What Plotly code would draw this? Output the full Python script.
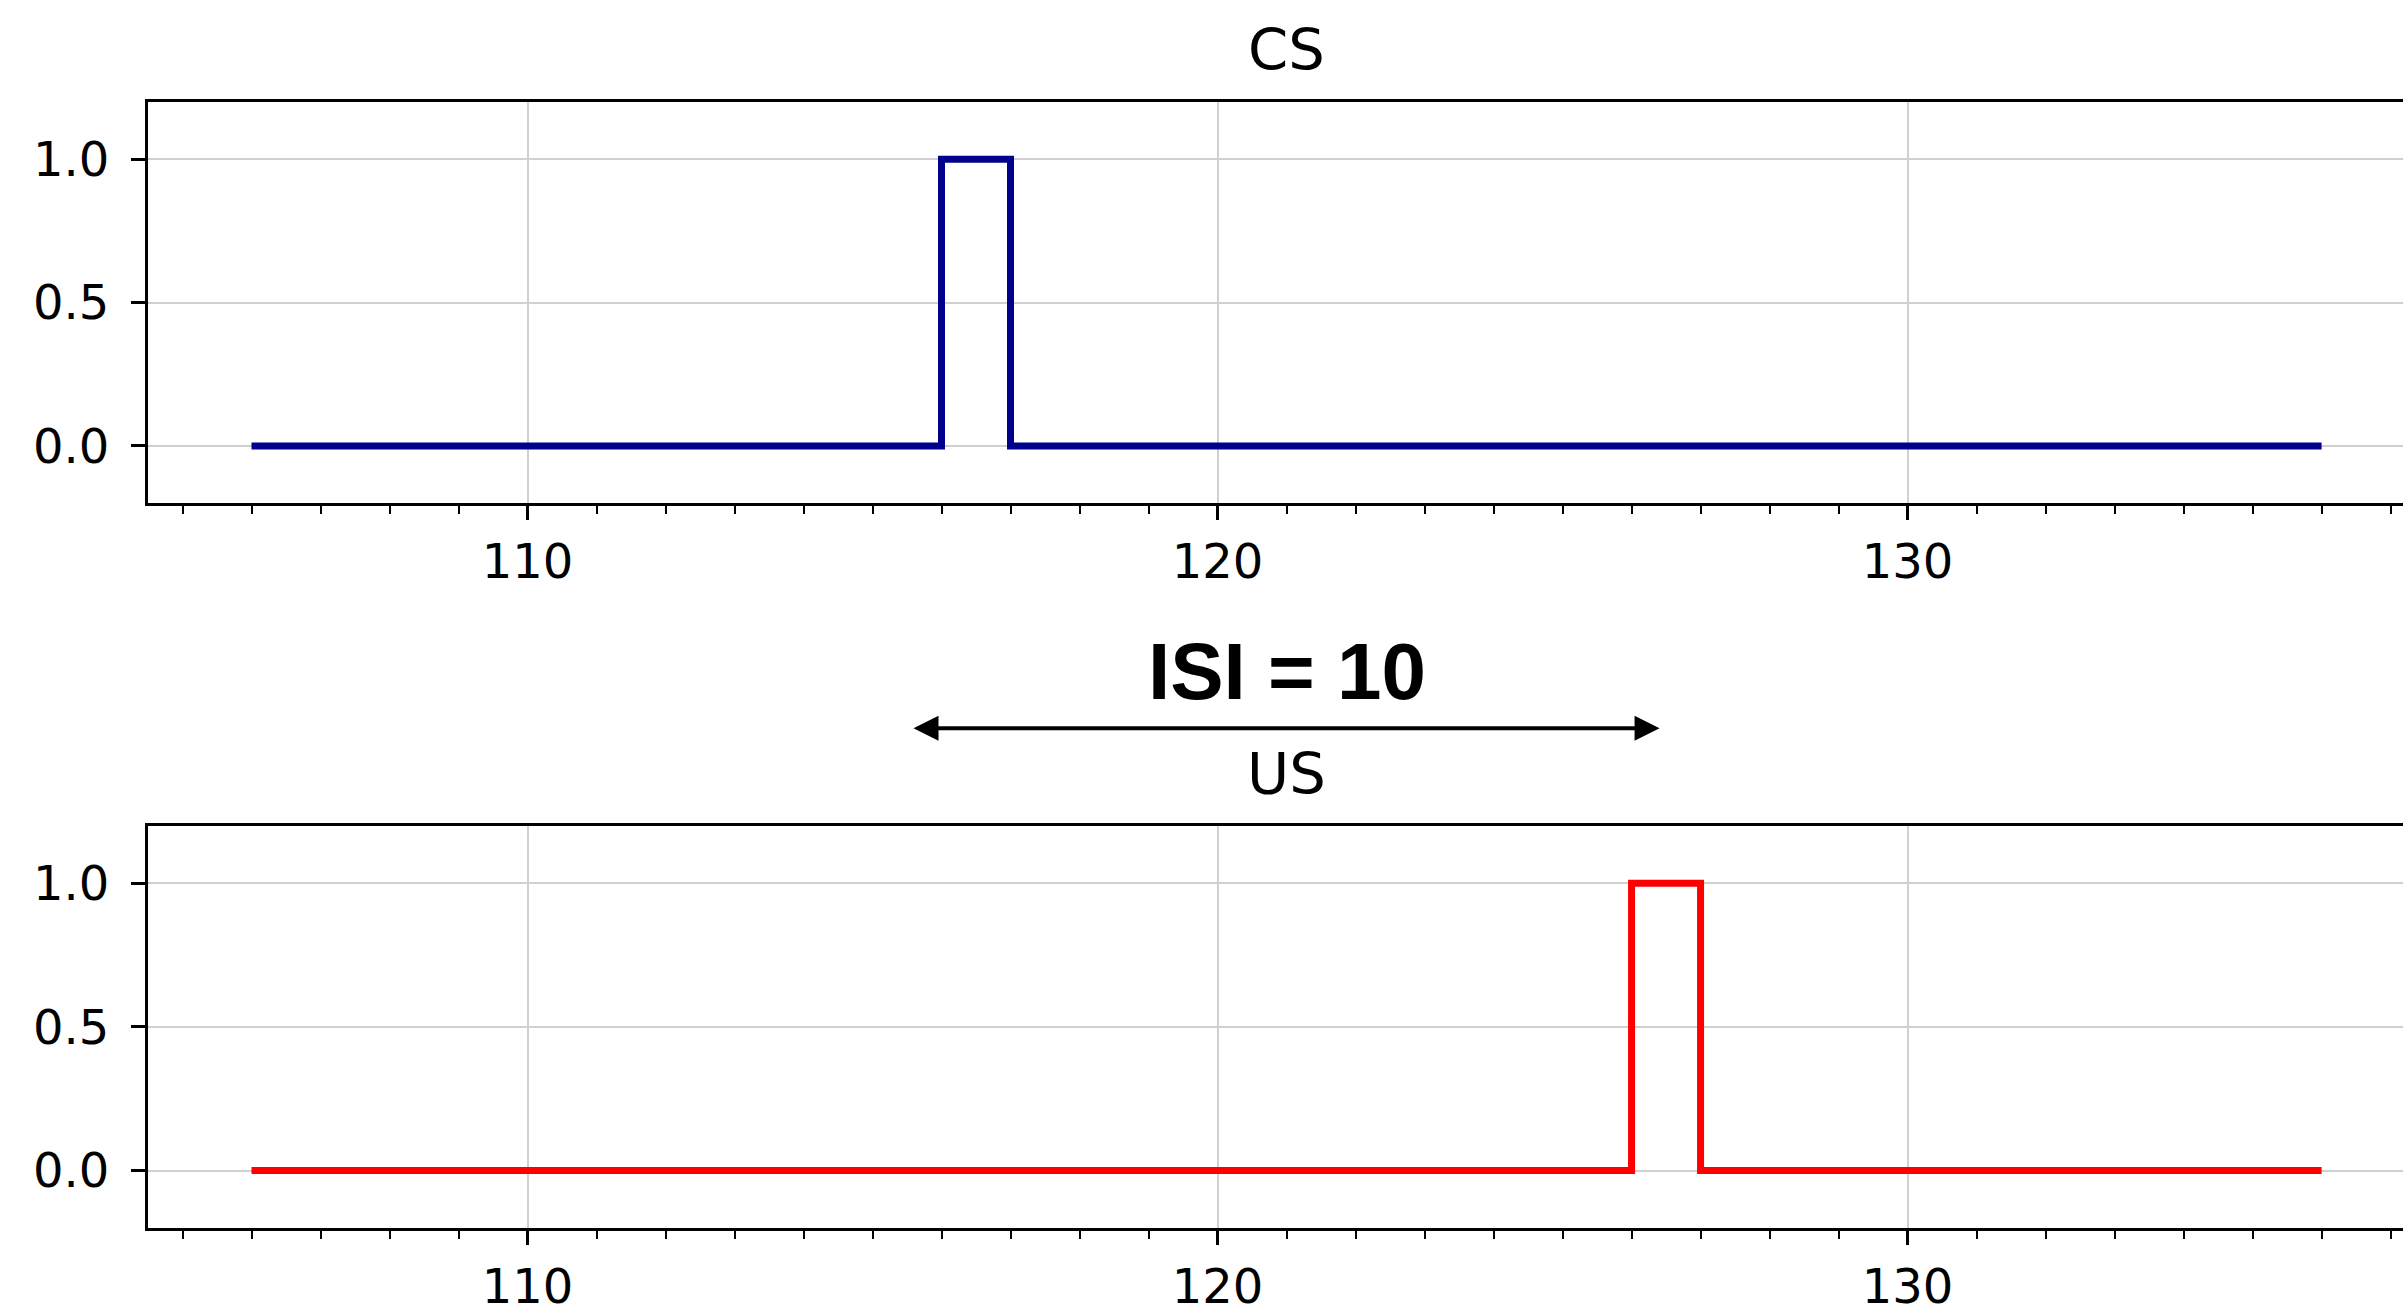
import plotly.graph_objects as go

# ---- data ----
time = [106, 107, 108, 109, 110, 111, 112, 113, 114, 115, 116, 117, 118, 119, 120,
        121, 122, 123, 124, 125, 126, 127, 128, 129, 130, 131, 132, 133, 134, 135, 136]
cs = [0, 0, 0, 0, 0, 0, 0, 0, 0, 0, 1, 0, 0, 0, 0,
      0, 0, 0, 0, 0, 0, 0, 0, 0, 0, 0, 0, 0, 0, 0, 0]
us = [0, 0, 0, 0, 0, 0, 0, 0, 0, 0, 0, 0, 0, 0, 0,
      0, 0, 0, 0, 0, 1, 0, 0, 0, 0, 0, 0, 0, 0, 0, 0]
titles = ["CS", "US"]
isi_label = "ISI = 10"
isi_start, isi_end = 116, 126
y_ticks = [0.0, 0.5, 1.0]
y_ticktext = ["0.0", "0.5", "1.0"]

W, H = 2403, 1314
ML, MT, MB = 148, 102, 81
PH = H - MT - MB  # plot area height in px


def py(p):
    """pixel row (from top) -> paper y"""
    return (H - MB - p) / PH


fig = go.Figure()
fig.add_trace(go.Scatter(x=time, y=cs, mode="lines", line=dict(color="#00008B", width=7, shape="hv"),
                         xaxis="x", yaxis="y", showlegend=False))
fig.add_trace(go.Scatter(x=time, y=us, mode="lines", line=dict(color="#FF0000", width=7, shape="hv"),
                         xaxis="x2", yaxis="y2", showlegend=False))

font_tick = dict(family="DejaVu Sans", size=48, color="black")
xcommon = dict(range=[104.5, 137.18], dtick=10, tick0=0, ticks="outside", ticklen=14, tickwidth=3,
               tickcolor="black", showline=True, linewidth=3.2, linecolor="black", mirror=True,
               showgrid=True, gridcolor="#d0d0d0", gridwidth=1.5, zeroline=False, tickfont=font_tick,
               minor=dict(dtick=1, tick0=0, ticks="outside", ticklen=8, tickwidth=2.4,
                          tickcolor="black", showgrid=False))
ycommon = dict(range=[-0.2, 1.2], tickvals=y_ticks, ticktext=y_ticktext, ticks="outside", ticklen=14,
               tickwidth=3, tickcolor="black", showline=True, linewidth=3.2, linecolor="black",
               mirror=False, showgrid=True, gridcolor="#d0d0d0", gridwidth=1.5, zeroline=False,
               tickfont=font_tick, ticklabelstandoff=12)

top_bottom = py(505)
bot_top = py(829)

fig.update_layout(
    width=W, height=H,
    margin=dict(l=ML, r=0, t=MT, b=MB, pad=0),
    paper_bgcolor="white", plot_bgcolor="white",
    xaxis=dict(domain=[0, 1], anchor="y", **xcommon),
    yaxis=dict(domain=[top_bottom, 1], anchor="x", **ycommon),
    xaxis2=dict(domain=[0, 1], anchor="y2", **xcommon),
    yaxis2=dict(domain=[0, bot_top], anchor="x2", **ycommon),
)

mid = (xcommon["range"][0] + 137.5) / 2
title_font = dict(family="DejaVu Sans", size=57.6, color="black")
fig.add_annotation(text=titles[0], x=mid, xref="x", y=py(50), yref="paper",
                   xanchor="center", yanchor="middle", showarrow=False, font=title_font)
fig.add_annotation(text=titles[1], x=mid, xref="x", y=py(777), yref="paper",
                   xanchor="center", yanchor="middle", showarrow=False, font=title_font)
fig.add_annotation(text="<b>" + isi_label + "</b>", x=(isi_start + isi_end) / 2, xref="x",
                   y=py(674), yref="paper", xanchor="center", yanchor="middle", showarrow=False,
                   font=dict(family="Liberation Sans", size=80, color="black"))

# double-headed arrow between CS onset and US onset
ay = py(731)
px_per_unit = 69.0
tip_off = 28 / px_per_unit
head_len = 25 / px_per_unit
head_h = 12.5 / PH
xl = isi_start - tip_off
xr = isi_end + tip_off
fig.add_shape(type="line", xref="x", yref="paper", x0=xl + head_len * 0.8, x1=xr - head_len * 0.8,
              y0=ay, y1=ay, line=dict(color="black", width=4))
fig.add_shape(type="path", xref="x", yref="paper", fillcolor="black", line=dict(width=0),
              path=f"M {xl} {ay} L {xl + head_len} {ay + head_h} L {xl + head_len} {ay - head_h} Z")
fig.add_shape(type="path", xref="x", yref="paper", fillcolor="black", line=dict(width=0),
              path=f"M {xr} {ay} L {xr - head_len} {ay + head_h} L {xr - head_len} {ay - head_h} Z")

fig.write_html("out.html", config={"displayModeBar": False},
               post_script="document.body.style.margin='0';document.body.style.overflow='hidden';")
